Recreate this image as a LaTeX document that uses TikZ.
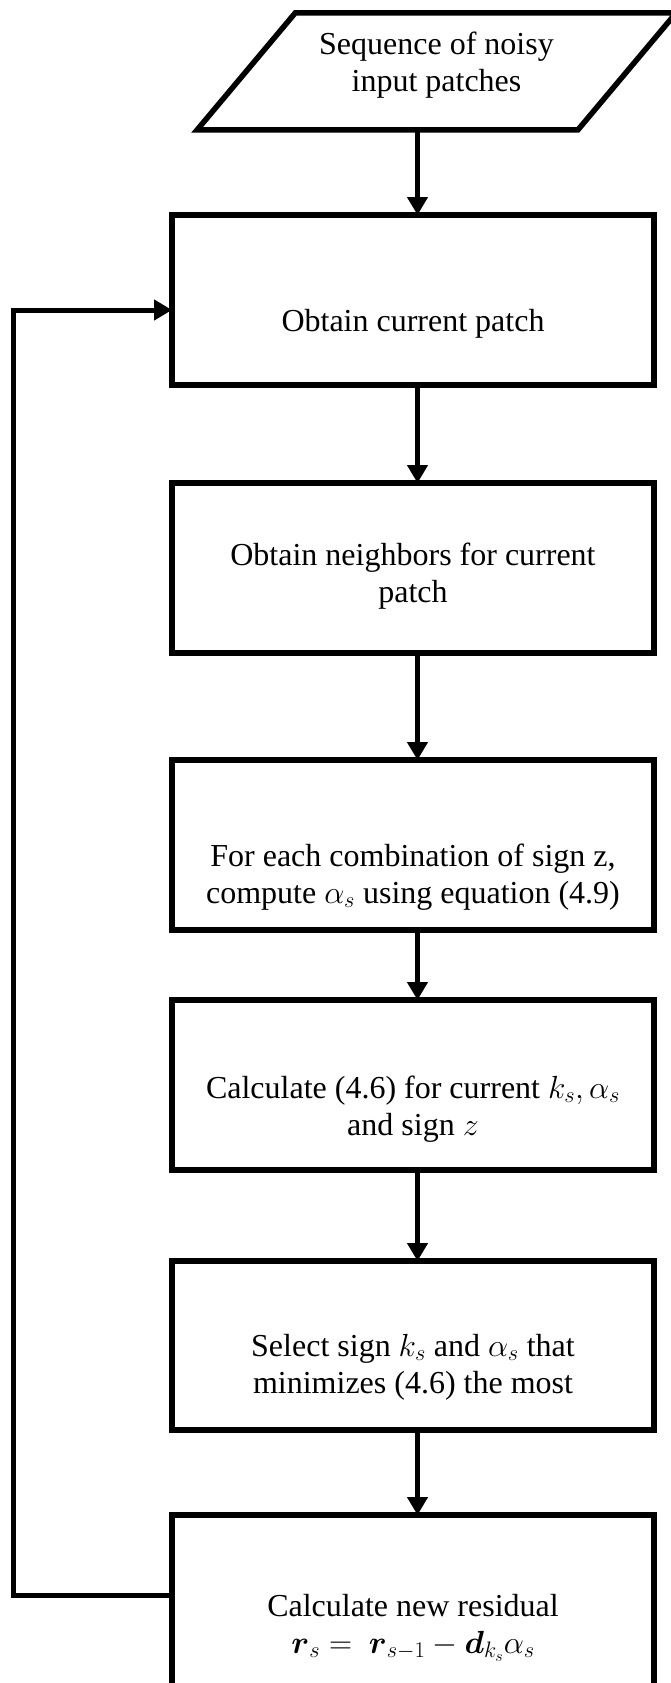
\RequirePackage{fix-cm}
\documentclass[tikz,border=0pt]{standalone}
\usepackage{amsmath}
\usepackage{fontspec}
\setmainfont{Liberation Serif}
\usetikzlibrary{arrows.meta,positioning}
\usetikzlibrary{shapes.geometric}

\begin{document}
\begin{tikzpicture}
	[x=1pt,y=-1pt,
	main node/.style={shape=rectangle,draw,fill=white,line width=5.5pt,minimum width=482pt,inner sep=0pt,outer sep=0pt,align=center,font=\fontsize{32}{37}\selectfont},
	io node/.style={shape=trapezium,trapezium left angle=50,trapezium right angle=130,trapezium stretches body,draw,fill=white,line width=5.5pt,minimum width=479pt,inner sep=0pt,outer sep=0pt,align=center,font=\fontsize{32}{37}\selectfont},
	textpos/.style 2 args={text height=#1,text depth=#2}]
	\tikzset{flow/.style={line width=5pt,-{Triangle[width=20pt,length=18pt]}}}
	\useasboundingbox (0,0) rectangle (670,1683);
	\node [io node,textpos={79pt}{38pt}] (0) at (436.5,71.5) {Sequence of noisy\\input patches};
	\node [main node,textpos={116pt}{54pt}] (1) at (413,300) {Obtain current patch};
	\node [main node,textpos={119pt}{51pt}] (2) at (413,568) {Obtain neighbors for current\\patch};
	\node [main node,textpos={143pt}{27pt}] (3) at (413,845) {For each combination of sign z,\\compute $\alpha_s$ using equation (4.9)};
	\node [main node,textpos={135pt}{35pt}] (4) at (413,1085) {Calculate (4.6) for current $k_s, \alpha_s$\\and sign $z$};
	\node [main node,textpos={132pt}{37pt}] (5) at (413,1345.5) {Select sign $k_s$ and $\alpha_s$ that\\minimizes (4.6) the most};
	\node [main node,textpos={138pt}{47pt}] (6) at (413,1607.5) {Calculate new residual\\$\boldsymbol{r}_s =\ \boldsymbol{r}_{s-1} - \boldsymbol{d}_{k_s}\alpha_s$};
	\coordinate (back) at (13,1595);
	
	\path [flow]
	([xshift=4.5pt]1.north |- 0.south) edge ([xshift=4.5pt]1.north)
	([xshift=4.5pt]1.south) edge ([xshift=4.5pt]2.north)
	([xshift=4.5pt]2.south) edge ([xshift=4.5pt]3.north)
	([xshift=4.5pt]3.south) edge ([xshift=4.5pt]4.north)
	([xshift=4.5pt]4.south) edge ([xshift=4.5pt]5.north)
	([xshift=4.5pt]5.south) edge ([xshift=4.5pt]6.north)
	;
	
	\draw [flow] ([yshift=12.5pt]6.west) -- (back) |- ([yshift=-10pt]1.west);
	
\end{tikzpicture}
\end{document}
